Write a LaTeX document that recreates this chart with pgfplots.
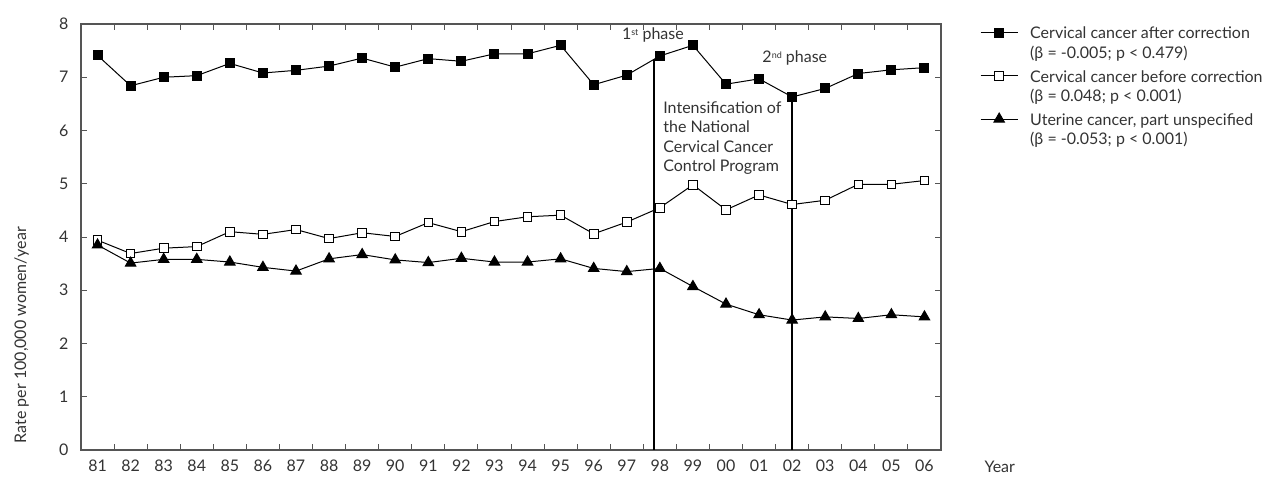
\documentclass[border=0pt]{standalone}
\usepackage{pgfplots}
\pgfplotsset{compat=1.18}
\usepackage{fontspec}
\setmainfont{Lato}
\definecolor{txt}{HTML}{333333}
\definecolor{frame}{HTML}{555555}
\newcommand{\phsup}[1]{\raisebox{0.55ex}{\fontsize{9}{9}\selectfont #1}}
\begin{document}
\begin{tikzpicture}[font=\fontsize{16}{19.5}\selectfont]
\begin{axis}[name=ax,
  scale only axis, width=860pt, height=426pt,
  xmin=80.5, xmax=106.5, ymin=0, ymax=8,
  clip=false,
  axis line style={frame, line width=1.3pt},
  tick align=inside,
  tick style={frame, line width=1pt},
  major tick length=6pt,
  ytick={0,1,...,8},
  yticklabel style={xshift=-9pt, text=txt},
  xtick={81.5,82.5,...,105.5},
  xticklabels={},
  extra x ticks={81,...,106},
  extra x tick labels={81,82,83,84,85,86,87,88,89,90,91,92,93,94,95,96,97,98,99,00,01,02,03,04,05,06},
  extra x tick style={major tick length=0pt, xticklabel style={yshift=-6pt, text=txt}},
  /pgf/number format/assume math mode=true,
  ylabel={Rate per 100,000 women/year},
  every axis y label/.style={at={(axis description cs:-0.069,0.27)}, rotate=90, anchor=center, text=txt},
  xlabel={Year},
  every axis x label/.style={at={(axis description cs:1,0)}, anchor=base west, xshift=40pt, yshift=-22pt, text=txt},
  legend style={at={(axis description cs:1,1)}, anchor=north west, xshift=39pt, yshift=1pt,
    draw=none, fill=none, inner sep=0pt, row sep=24pt, column sep=10pt, text=txt,
    font=\fontsize{16}{19.5}\selectfont, cells={anchor=west}},
  legend cell align=left,
  legend image code/.code={\draw[mark repeat=2,mark phase=2] plot coordinates {(0pt,0pt) (18.5pt,0pt) (37pt,0pt)};},
]
\addplot[black, line width=1pt, mark=square*, mark size=4.5pt, mark options={fill=black}] coordinates {
(81,7.41) (82,6.84) (83,7.00) (84,7.03) (85,7.26) (86,7.08) (87,7.13) (88,7.21) (89,7.36) (90,7.19)
(91,7.35) (92,7.30) (93,7.44) (94,7.44) (95,7.60) (96,6.86) (97,7.04) (98,7.40) (99,7.60) (100,6.87)
(101,6.97) (102,6.63) (103,6.79) (104,7.07) (105,7.14) (106,7.18)};
\addlegendentry{\begin{tabular}[t]{@{}l@{}}Cervical cancer after correction\\(β = -0.005; p < 0.479)\end{tabular}}
\addplot[black, line width=1pt, mark=square*, mark size=4.3pt, mark options={fill=white, line width=0.9pt}] coordinates {
(81,3.94) (82,3.69) (83,3.79) (84,3.82) (85,4.10) (86,4.05) (87,4.14) (88,3.97) (89,4.08) (90,4.01)
(91,4.27) (92,4.10) (93,4.29) (94,4.38) (95,4.41) (96,4.06) (97,4.28) (98,4.55) (99,4.98) (100,4.51)
(101,4.79) (102,4.61) (103,4.69) (104,4.99) (105,4.99) (106,5.06)};
\addlegendentry{\begin{tabular}[t]{@{}l@{}}Cervical cancer before correction\\(β = 0.048; p < 0.001)\end{tabular}}
\addplot[black, line width=1pt, mark=triangle*, mark size=6pt, mark options={fill=black}] coordinates {
(81,3.85) (82,3.51) (83,3.58) (84,3.58) (85,3.53) (86,3.43) (87,3.36) (88,3.59) (89,3.67) (90,3.57)
(91,3.52) (92,3.60) (93,3.53) (94,3.53) (95,3.59) (96,3.41) (97,3.35) (98,3.41) (99,3.07) (100,2.74)
(101,2.54) (102,2.44) (103,2.50) (104,2.47) (105,2.54) (106,2.50)};
\addlegendentry{\begin{tabular}[t]{@{}l@{}}Uterine cancer, part unspecified\\(β = -0.053; p < 0.001)\end{tabular}}
\draw[black, line width=2pt] (axis cs:97.83,0) -- (axis cs:97.83,7.35);
\draw[black, line width=2pt] (axis cs:102,0) -- (axis cs:102,6.63);
\node[text=txt, anchor=center] at (axis cs:97.79,7.79) {1\phsup{st} phase};
\node[text=txt, anchor=center] at (axis cs:102.08,7.36) {2\phsup{nd} phase};
\node[text=txt, anchor=north west, align=left, inner sep=0pt] at (axis cs:98.1,6.55)
  {Intensification of\\the National\\Cervical Cancer\\Control Program};
\end{axis}
\pgfresetboundingbox
\path[use as bounding box] ([shift={(-81pt,-29pt)}]ax.south west) rectangle ++(1269pt,479pt);
\end{tikzpicture}
\end{document}
